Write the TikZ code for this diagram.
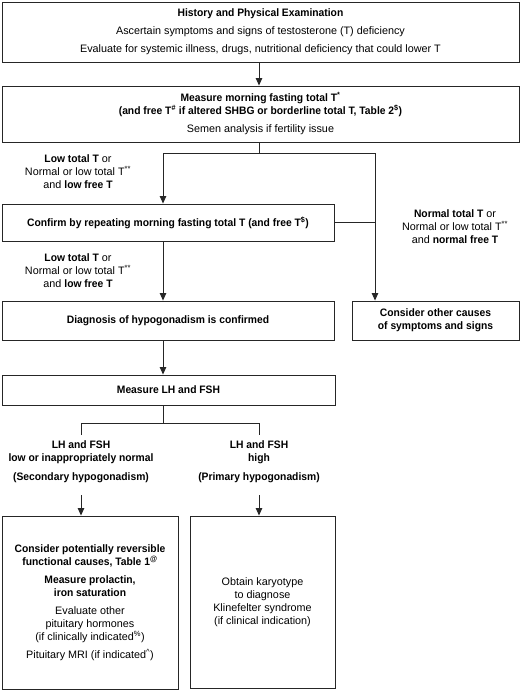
\documentclass[tikz,border=0pt]{standalone}
\usepackage{fontspec}
\setmainfont{Liberation Sans}[BoldFeatures={FakeStretch=0.955}]
\usetikzlibrary{arrows.meta}
\begin{document}
\begin{tikzpicture}[x=1pt,y=-1pt,
  box/.style={draw=black!85,line width=0.9pt,rectangle,inner sep=0pt,align=center,
    font=\fontsize{10.8}{13}\selectfont},
  lbl/.style={inner sep=0pt,align=center,font=\fontsize{10.8}{13}\selectfont},
  ln/.style={draw=black!85,line width=0.9pt},
  arr/.style={ln,-{Triangle[width=6.5pt,length=7.5pt]}}]
\useasboundingbox (0,0) rectangle (520,690);
% boxes
\node[box,minimum width=517pt,minimum height=60pt] (b1) at (260.5,32)
  {\textbf{History and Physical Examination}\\[5pt]
   Ascertain symptoms and signs of testosterone (T) deficiency\\[5pt]
   Evaluate for systemic illness, drugs, nutritional deficiency that could lower T};
\node[box,minimum width=517pt,minimum height=56pt] (b2) at (260.5,114)
  {\textbf{Measure morning fasting total T\textsuperscript{*}}\\
   \textbf{(and free T\textsuperscript{\#} if altered SHBG or borderline total T, Table 2\textsuperscript{\$})}\\[5pt]
   Semen analysis if fertility issue};
\node[box,minimum width=332pt,minimum height=37pt] (b3) at (168,222.5)
  {\textbf{Confirm by repeating morning fasting total T (and free T\textsuperscript{\$})}};
\node[box,minimum width=332pt,minimum height=39pt] (b4) at (168,320.5)
  {\textbf{Diagnosis of hypogonadism is confirmed}};
\node[box,minimum width=167pt,minimum height=39pt] (b5) at (435.5,320.5)
  {\textbf{Consider other causes}\\\textbf{of symptoms and signs}};
\node[box,minimum width=333pt,minimum height=30pt] (b6) at (168.5,390)
  {\textbf{Measure LH and FSH}};
\node[box,minimum width=176pt,minimum height=173pt] (b7) at (90,602.5)
  {\textbf{Consider potentially reversible}\\
   \textbf{functional causes, Table 1\textsuperscript{@}}\\[5pt]
   \textbf{Measure prolactin,}\\\textbf{iron saturation}\\[5pt]
   Evaluate other\\pituitary hormones\\(if clinically indicated\textsuperscript{\%})\\[5pt]
   Pituitary MRI (if indicated\textsuperscript{\textasciicircum})};
\node[box,minimum width=145pt,minimum height=172pt] (b8) at (262.5,602)
  {Obtain karyotype\\to diagnose\\Klinefelter syndrome\\(if clinical indication)};
% labels
\node[lbl] (l1) at (78,172)
  {\textbf{Low total T} or\\Normal or low total T\textsuperscript{**}\\and \textbf{low free T}};
\node[lbl] (l2) at (78,271)
  {\textbf{Low total T} or\\Normal or low total T\textsuperscript{**}\\and \textbf{low free T}};
\node[lbl] (l3) at (455,227)
  {\textbf{Normal total T} or\\Normal or low total T\textsuperscript{**}\\and \textbf{normal free T}};
\node[lbl] (lh1) at (81,462)
  {\textbf{LH and FSH}\\\textbf{low or inappropriately normal}\\[6pt]\textbf{(Secondary hypogonadism)}};
\node[lbl] (lh2) at (259,462)
  {\textbf{LH and FSH}\\\textbf{high}\\[6pt]\textbf{(Primary hypogonadism)}};
% coordinates
\coordinate (j1) at (259,153);
\coordinate (jl) at (163,153);
\coordinate (jr) at (375,153);
\coordinate (j2) at (163,423);
\coordinate (jl2) at (81,423);
\coordinate (jr2) at (259,423);
\coordinate (tl) at (81,435);
\coordinate (tr) at (259,435);
\coordinate (sl) at (81,495);
\coordinate (sr) at (259,495);
% connectors
\draw[arr] (b1.south -| j1) -- (b2.north -| j1);
\draw[ln] (b2.south -| j1) -- (j1);
\draw[ln] (jl) -- (jr);
\draw[arr] (jl) -- (b3.north -| jl);
\draw[arr] (jr) -- (b5.north -| jr);
\draw[ln] (b3.east) -- (b3.east -| jr);
\draw[arr] (b3.south -| jl) -- (b4.north -| jl);
\draw[arr] (b4.south -| jl) -- (b6.north -| jl);
\draw[ln] (b6.south -| j2) -- (j2);
\draw[ln] (tl) -- (jl2) -- (jr2) -- (tr);
\draw[arr] (sl) -- (b7.north -| sl);
\draw[arr] (sr) -- (b8.north -| sr);
\end{tikzpicture}
\end{document}
